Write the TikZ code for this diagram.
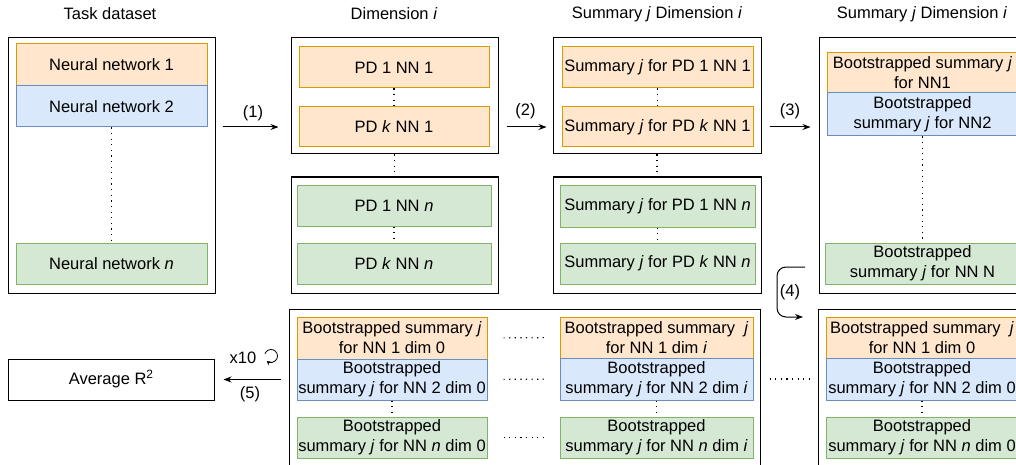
\documentclass[tikz,border=0pt]{standalone}
\usepackage{fontspec}
\setmainfont{Liberation Sans}
\usetikzlibrary{arrows.meta}

\definecolor{orfill}{HTML}{FFE6CC}
\definecolor{ordraw}{HTML}{D79B00}
\definecolor{blfill}{HTML}{DAE8FC}
\definecolor{bldraw}{HTML}{6C8EBF}
\definecolor{grfill}{HTML}{D5E8D4}
\definecolor{grdraw}{HTML}{82B366}

\begin{document}
\begin{tikzpicture}[x=1pt, y=-1pt,
  every node/.style={font=\fontsize{16.5}{20}\selectfont, inner sep=0pt, align=center},
  frame/.style={draw=black, line width=1pt},
  orbox/.style={draw=ordraw, fill=orfill, line width=1pt},
  blbox/.style={draw=bldraw, fill=blfill, line width=1pt},
  grbox/.style={draw=grdraw, fill=grfill, line width=1pt},
  dots/.style={line width=1.2pt, dash pattern=on 1.2pt off 4.4pt},
  flow/.style={line width=1pt, -{Stealth[length=8pt, width=6pt]}}]
  \useasboundingbox (0,0) rectangle (1016,465);
  \clip (0,0) rectangle (1016,465);

  % Task dataset
  \node (t1) at (110,14) {Task dataset};
  \node[frame, minimum width=207, minimum height=255] (L) at (111.5,165.5) {};
  \node[orbox, minimum width=191, minimum height=42] (nn1) at (111.5,65) {Neural network 1};
  \node[blbox, minimum width=191, minimum height=41] (nn2) at (111.5,106.5) {Neural network 2};
  \node[grbox, minimum width=191, minimum height=41] (nnn) at (111.5,263.5) {Neural network \textit{n}};
  \draw[dots] (nn2.south) -- (nnn.north);

  % Dimension i
  \node (t2) at (394,14) {Dimension \textit{i}};
  \node[frame, minimum width=207, minimum height=116] (D1) at (394.5,96) {};
  \node[frame, minimum width=207, minimum height=116] (D2) at (394.5,235) {};
  \node[orbox, minimum width=190, minimum height=41] (pd11) at (394,67.5) {PD 1 NN 1};
  \node[orbox, minimum width=190, minimum height=40] (pdk1) at (394,127) {PD \textit{k} NN 1};
  \node[grbox, minimum width=194, minimum height=41] (pd1n) at (394,205.5) {PD 1 NN \textit{n}};
  \node[grbox, minimum width=194, minimum height=41] (pdkn) at (394,263.5) {PD \textit{k} NN \textit{n}};
  \draw[dots] (pd11.south) -- (pdk1.north);
  \draw[dots] (D1.south) -- (D2.north);
  \draw[dots] (pd1n.south) -- (pdkn.north);

  % Summary j Dimension i
  \node (t3) at (657,14) {Summary \textit{j} Dimension \textit{i}};
  \node[frame, minimum width=208, minimum height=116] (S1) at (657,96) {};
  \node[frame, minimum width=208, minimum height=116] (S2) at (657,235) {};
  \node[orbox, minimum width=191, minimum height=41] (s11) at (657.5,67.5) {Summary \textit{j} for PD 1 NN 1};
  \node[orbox, minimum width=191, minimum height=40] (sk1) at (657.5,127) {Summary \textit{j} for PD \textit{k} NN 1};
  \node[grbox, minimum width=195, minimum height=42] (s1n) at (657.5,206) {Summary \textit{j} for PD 1 NN \textit{n}};
  \node[grbox, minimum width=195, minimum height=41] (skn) at (657.5,263.5) {Summary \textit{j} for PD \textit{k} NN \textit{n}};
  \draw[dots] (s11.south) -- (sk1.north);
  \draw[dots] (S1.south) -- (S2.north);
  \draw[dots] (s1n.south) -- (skn.north);

  % Bootstrapped summaries
  \node (t4) at (922,14) {Summary \textit{j} Dimension \textit{i}};
  \node[frame, minimum width=207, minimum height=255] (R) at (922.5,165.5) {};
  \node[orbox, minimum width=191, minimum height=40] (b1) at (922.5,73) {Bootstrapped summary \textit{j}\\for NN1};
  \node[blbox, minimum width=191, minimum height=43] (b2) at (922.5,114.5) {Bootstrapped\\summary \textit{j} for NN2};
  \node[grbox, minimum width=195, minimum height=41] (bN) at (922.5,263.5) {Bootstrapped\\summary \textit{j} for NN N};
  \draw[dots] (b2.south) -- (bN.north);

  % arrows (1)-(3)
  \draw[flow, shorten <=7pt, shorten >=12pt] (L.east |- pdk1) -- node[above=6pt] {(1)} (D1.west |- pdk1);
  \draw[flow, shorten <=8pt, shorten >=6pt] (D1.east |- pdk1) -- node[above=8pt] {(2)} (S1.west |- sk1);
  \draw[flow, shorten <=8pt, shorten >=8pt] (S1.east |- sk1) -- node[above=8pt] {(3)} (R.west |- sk1);

  % all dimensions
  \node[frame, minimum width=471, minimum height=171] (B) at (524.5,394.5) {};
  \node[frame, minimum width=207, minimum height=171] (R3) at (921.5,394.5) {};
  \node[orbox, minimum width=190, minimum height=42] (o0) at (392,338) {Bootstrapped summary \textit{j}\\for NN 1 dim 0};
  \node[blbox, minimum width=190, minimum height=41] (u0) at (392,379.5) {Bootstrapped\\summary \textit{j} for NN 2 dim 0};
  \node[grbox, minimum width=190, minimum height=41] (g0) at (392,437.5) {Bootstrapped\\summary \textit{j} for NN \textit{n} dim 0};
  \node[orbox, minimum width=193, minimum height=41] (oi) at (656.5,337.5) {Bootstrapped summary~ \textit{j}\\for NN 1 dim \textit{i}};
  \node[blbox, minimum width=193, minimum height=42] (ui) at (656.5,379) {Bootstrapped\\summary \textit{j} for NN 2 dim \textit{i}};
  \node[grbox, minimum width=193, minimum height=41] (gi) at (656.5,437.5) {Bootstrapped\\summary \textit{j} for NN \textit{n} dim \textit{i}};
  \node[orbox, minimum width=192, minimum height=41] (oz) at (922,337.5) {Bootstrapped summary~ \textit{j}\\for NN 1 dim 0};
  \node[blbox, minimum width=192, minimum height=42] (uz) at (922,379) {Bootstrapped\\summary \textit{j} for NN 2 dim 0};
  \node[grbox, minimum width=192, minimum height=41] (gz) at (922,437.5) {Bootstrapped\\summary \textit{j} for NN \textit{n} dim 0};
  \draw[dots] (u0.south) -- (g0.north);
  \draw[dots] (ui.south) -- (gi.north);
  \draw[dots] (uz.south) -- (gz.north);
  \draw[dots, shorten <=16pt, shorten >=15pt] (o0.east) -- (oi.west);
  \draw[dots, shorten <=16pt, shorten >=15pt] (u0.east) -- (ui.west);
  \draw[dots, shorten <=16pt, shorten >=15pt] (g0.east) -- (gi.west);
  \draw[dots, shorten <=9pt, shorten >=8pt] (B.east |- uz) -- (R3.west |- uz);

  % (4)
  \coordinate (f4s) at (805,267);
  \coordinate (f4e) at (803,317);
  \draw[flow, rounded corners=9pt] (f4s) -- ++(-28,0) |- (f4e);
  \node (l4) at (790,292) {(4)};

  % (5)
  \node[frame, minimum width=206, minimum height=41] (A) at (111,379.5) {Average R\raisebox{6pt}{\fontsize{12}{12}\selectfont 2}};
  \draw[flow, shorten <=8pt, shorten >=9pt] (B.west |- A) -- (A.east);
  \node (x10) at (243,358) {x10};
  \coordinate (loop) at (271,356);
  \draw[line width=0.8pt, -{Stealth[length=4pt, width=4.5pt]}] (loop) ++(-160:6.5) arc[start angle=-160, end angle=130, radius=6.5];
  \node (l5) at (250,394) {(5)};
\end{tikzpicture}
\end{document}
